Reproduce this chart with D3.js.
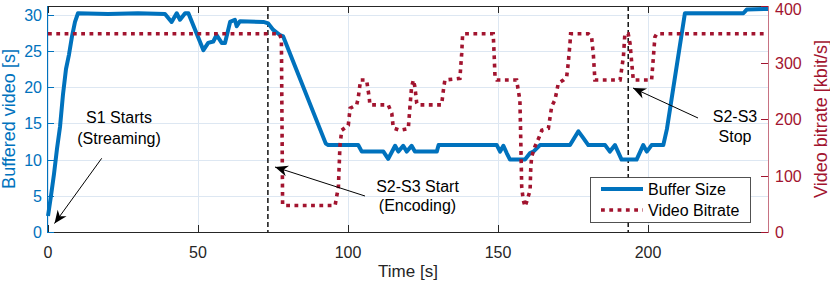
<!DOCTYPE html>
<html><head><meta charset="utf-8">
<script src="https://cdn.jsdelivr.net/npm/d3@7"></script>
<style>
html,body{margin:0;padding:0;background:#fff;}
svg text{font-family:"Liberation Sans",Arial,Helvetica,sans-serif;}
</style></head>
<body><svg id="c" width="830" height="283"></svg>
<script>
// ---- data ----
const bufferTime = [0,1,2,3,4,5,6,7,8,9,10,20,30,39,41.2,42.9,44,45.7,46.8,51.8,53.4,55.1,56.2,57.9,59,60.7,62.3,62.9,64,71.8,73.4,75.1,77.3,78.4,92.6,93.4,103.4,104.6,111.8,113.4,115.7,116.8,118.4,119.6,121.2,122.3,129.6,130.2,149.6,150.7,151.8,152.9,154,159,160.7,161.8,164,174,176.8,178.4,180.1,185.7,187.3,189,191.2,196.2,198.4,199.6,201.2,205.1,206.3,212.3,231.8,232.9,240];
const bufferSize = [2.2,5,8,11.5,14.5,19,22.5,24.5,27,29,30.2,30.1,30.2,30.1,29.0,30.2,29.3,30.2,30.2,25.1,26.1,26.3,27.2,26.1,26.1,29.0,29.3,28.4,29.1,29.0,28.8,27.9,27.2,27.0,12.2,12.0,12.0,11.1,11.1,10.1,11.9,11.1,11.9,11.1,11.9,11.1,11.1,12.0,12.0,11.1,11.9,10.9,10.0,10.0,10.9,11.1,12.0,12.0,13.9,13.0,12.0,12.0,11.1,12.0,10.0,10.0,12.0,11.1,12.0,12.0,14.2,30.2,30.2,30.7,30.8];
const bitrateTime = [0,77.2,77.8,78.2,79,95.7,96.8,97.3,97.9,100.1,100.7,102.9,103.4,104.2,106.2,107.1,107.3,113.4,114.6,115.1,117.3,120.1,120.7,121.2,121.8,122.3,122.9,123.2,131.2,131.8,132.3,137.3,137.9,138.2,138.5,148.4,148.7,149,149.6,156.2,157.3,157.5,157.9,158.4,159,159.6,160.7,160.9,161.2,162.3,163.8,164.6,166.8,167.9,169,170.1,171.8,172.9,173.4,174,174.2,180.1,181.2,181.8,182.3,190.7,191.8,192.3,193.4,194,194.6,195.1,201.2,201.8,202.3,202.9,240];
const bitrate = [351,351,340,48,47,47,80,151,180,189,219,225,237,269,269,237,225,225,210,184,180,183,225,257,269,257,228,225,225,251,269,272,316,349,351,351,316,275,269,269,233,186,80,57,45,54,74,110,133,151,169,180,183.5,222,234,263,269,275,298,334,351,351,345,313,269,269,310,351,351,334,298,269,269,310,345,351,351];
const xTicks = [0,50,100,150,200];
const yLeftTicks = [0,5,10,15,20,25,30];
const yRightTicks = [0,100,200,300,400];
const eventTimes = [73.3,193.4];
const legendLabels = ["Buffer Size","Video Bitrate"];

const blue = "#0072BD", red = "#A2142F", dark = "#262626";
const svg = d3.select("#c");
const L = 48, R = 768, T = 6, B = 232;
const x = d3.scaleLinear().domain([0,240]).range([L,R]);
const yL = d3.scaleLinear().domain([0,31.2]).range([B,T]);
const yR = d3.scaleLinear().domain([0,400]).range([B,T]);

// grid
const grid = svg.append("g").attr("stroke","#dde7f2").attr("stroke-width",1);
yLeftTicks.forEach(v=>{ grid.append("line").attr("x1",L).attr("x2",R).attr("y1",Math.round(yL(v))+0.5).attr("y2",Math.round(yL(v))+0.5); });
xTicks.forEach(v=>{ grid.append("line").attr("y1",T).attr("y2",B).attr("x1",Math.round(x(v))+0.5).attr("x2",Math.round(x(v))+0.5); });

// event dashed lines
eventTimes.forEach(t=>{
  svg.append("line").attr("x1",x(t)).attr("x2",x(t)).attr("y1",T).attr("y2",B)
    .attr("stroke","#000").attr("stroke-width",1.4).attr("stroke-dasharray","5,3");
});

// series
const lineB = d3.line().x((d,i)=>x(bufferTime[i])).y(d=>yL(d));
svg.append("path").datum(bufferSize).attr("d",lineB).attr("fill","none")
  .attr("stroke",blue).attr("stroke-width",4).attr("stroke-linejoin","round");
const lineR = d3.line().x((d,i)=>x(bitrateTime[i])).y(d=>yR(d));
svg.append("path").datum(bitrate).attr("d",lineR).attr("fill","none")
  .attr("stroke",red).attr("stroke-width",3.6).attr("stroke-dasharray","3.8,4.5");

// axes box
svg.append("line").attr("x1",L).attr("x2",R).attr("y1",B+0.5).attr("y2",B+0.5).attr("stroke",dark);
svg.append("line").attr("x1",L).attr("x2",R).attr("y1",T+0.5).attr("y2",T+0.5).attr("stroke",dark);
svg.append("line").attr("x1",L-0.5).attr("x2",L-0.5).attr("y1",T).attr("y2",B+1).attr("stroke",blue);
svg.append("line").attr("x1",R+0.5).attr("x2",R+0.5).attr("y1",T).attr("y2",B+1).attr("stroke",red).attr("stroke-opacity",0.6);

// x ticks
xTicks.forEach(v=>{
  const px = Math.round(x(v))+0.5;
  svg.append("line").attr("x1",px).attr("x2",px).attr("y1",B).attr("y2",B-7).attr("stroke",dark);
  svg.append("line").attr("x1",px).attr("x2",px).attr("y1",T).attr("y2",T+7).attr("stroke",dark);
  svg.append("text").attr("x",x(v)).attr("y",258).attr("text-anchor","middle")
    .attr("font-size",16).attr("fill",dark).text(v);
});
// left ticks
yLeftTicks.forEach(v=>{
  const py = Math.round(yL(v))+0.5;
  svg.append("line").attr("x1",L).attr("x2",L+6).attr("y1",py).attr("y2",py).attr("stroke",blue);
  svg.append("text").attr("x",42).attr("y",yL(v)+6).attr("text-anchor","end")
    .attr("font-size",16).attr("fill",blue).text(v);
});
// right ticks
yRightTicks.forEach(v=>{
  const py = Math.round(yR(v))+0.5;
  svg.append("line").attr("x1",R).attr("x2",R-7).attr("y1",py).attr("y2",py).attr("stroke",red);
  svg.append("text").attr("x",775).attr("y",Math.max(yR(v)+6,14.5)).attr("text-anchor","start")
    .attr("font-size",16).attr("fill",red).text(v);
});

// axis labels
svg.append("text").attr("x",(L+R)/2).attr("y",277).attr("text-anchor","middle")
  .attr("font-size",17).attr("fill",dark).text("Time [s]");
svg.append("text").attr("transform",`translate(15,${(T+B)/2}) rotate(-90)`).attr("text-anchor","middle")
  .attr("font-size",18).attr("fill",blue).text("Buffered video [s]");
svg.append("text").attr("transform",`translate(827,${(T+B)/2}) rotate(-90)`).attr("text-anchor","middle")
  .attr("font-size",18).attr("fill",red).text("Video bitrate [kbit/s]");

// annotations
function arrow(x1,y1,x2,y2){
  svg.append("line").attr("x1",x1).attr("y1",y1).attr("x2",x2).attr("y2",y2)
    .attr("stroke","#000").attr("stroke-width",1);
  const a = Math.atan2(y2-y1,x2-x1), len=13, w=5.5, notch=9;
  const ux=Math.cos(a), uy=Math.sin(a), nx=-uy, ny=ux;
  const bx=x2-ux*len, by=y2-uy*len, mx=x2-ux*notch, my=y2-uy*notch;
  svg.append("path").attr("d",`M${x2},${y2}L${bx+nx*w},${by+ny*w}L${mx},${my}L${bx-nx*w},${by-ny*w}Z`)
    .attr("fill","#000");
}
function label(cx, ys, lines){
  lines.forEach((t,i)=>svg.append("text").attr("x",cx).attr("y",ys[i]).attr("text-anchor","middle")
    .attr("font-size",16).attr("fill","#000").text(t));
}
label(119,[123,143.5],["S1 Starts","(Streaming)"]);
arrow(101.7,158.3,54.5,223.5);
label(417.5,[191.5,211],["S2-S3 Start","(Encoding)"]);
arrow(365,196,275,167);
label(735,[121.5,142],["S2-S3","Stop"]);
arrow(698,118,633,88);

// legend
const lg = svg.append("g");
lg.append("rect").attr("x",590.5).attr("y",177.5).attr("width",160).attr("height",45)
  .attr("fill","#fff").attr("stroke","#262626").attr("stroke-opacity",0.8);
lg.append("line").attr("x1",601).attr("x2",643).attr("y1",189).attr("y2",189).attr("stroke",blue).attr("stroke-width",4);
lg.append("line").attr("x1",601).attr("x2",643).attr("y1",210).attr("y2",210).attr("stroke",red).attr("stroke-width",3.6).attr("stroke-dasharray","3.8,4.5");
lg.append("text").attr("x",648).attr("y",195).attr("font-size",16).attr("fill","#000").text(legendLabels[0]);
lg.append("text").attr("x",648).attr("y",216).attr("font-size",16).attr("fill","#000").text(legendLabels[1]);
</script></body></html>
